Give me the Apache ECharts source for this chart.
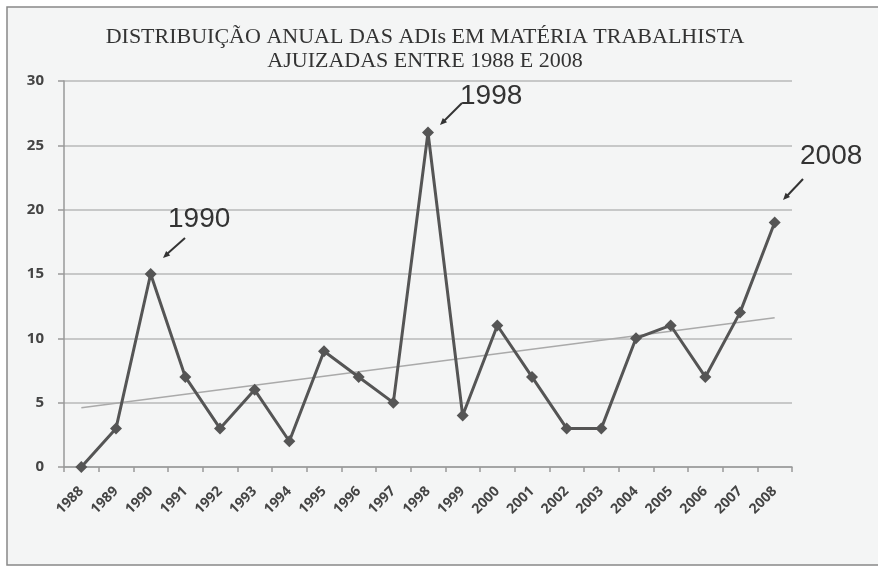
<!DOCTYPE html>
<html>
<head>
<meta charset="utf-8">
<script src="https://cdn.jsdelivr.net/npm/echarts@6/dist/echarts.min.js"></script>
<style>
  html, body { margin: 0; padding: 0; background: #ffffff; }
  #main { width: 878px; height: 568px; }
</style>
</head>
<body>
<div id="main"></div>
<script>
// dados
var anos = ["1988", "1989", "1990", "1991", "1992", "1993", "1994", "1995", "1996", "1997",
  "1998", "1999", "2000", "2001", "2002", "2003", "2004", "2005", "2006", "2007", "2008"];
var adis = [0, 3, 15, 7, 3, 6, 2, 9, 7, 5, 26, 4, 11, 7, 3, 3, 10, 11, 7, 12, 19];
// linha de tendência (inicio e fim)
var tendencia = [4.6, 11.6];
var yTicks = [0, 5, 10, 15, 20, 25, 30];

var trendData = anos.map(function (a, i) {
  if (i === 0) return tendencia[0];
  if (i === anos.length - 1) return tendencia[1];
  return null;
});

var myChart = echarts.init(document.getElementById("main"));

function seta(x1, y1, x2, y2) {
  return {
    type: "line",
    shape: { x1: x1, y1: y1, x2: x2, y2: y2 },
    style: { stroke: "#333", lineWidth: 2 },
    z: 10
  };
}
function ponta(x, y, ang) {
  return {
    type: "polygon",
    x: x, y: y, rotation: ang,
    shape: { points: [[0, 0], [-7, -3], [-7, 3]] },
    style: { fill: "#333" },
    z: 10
  };
}

var option = {
  backgroundColor: "#ffffff",
  animation: false,
  title: {
    text: "DISTRIBUIÇÃO ANUAL DAS ADIs EM MATÉRIA TRABALHISTA\nAJUIZADAS ENTRE 1988 E 2008",
    left: 420,
    top: 20,
    textAlign: "center",
    textStyle: {
      fontFamily: "Liberation Serif",
      fontWeight: "normal",
      fontSize: 22,
      lineHeight: 24,
      color: "#333"
    }
  },
  grid: { left: 64, right: 86, top: 81, bottom: 101 },
  xAxis: {
    type: "category",
    data: anos,
    boundaryGap: true,
    axisLine: { lineStyle: { color: "#999", width: 1.5 } },
    axisTick: { show: true, length: 5, lineStyle: { color: "#999", width: 1.5 } },
    axisLabel: {
      rotate: 45,
      interval: 0,
      margin: 22,
      fontFamily: "Open Sans",
      fontWeight: "bold",
      fontSize: 14,
      color: "#444"
    }
  },
  yAxis: {
    type: "value",
    min: yTicks[0],
    max: yTicks[yTicks.length - 1],
    interval: 5,
    axisLine: { show: true, lineStyle: { color: "#999", width: 1.5 } },
    axisTick: { show: true, length: 6, lineStyle: { color: "#999", width: 1.5 } },
    splitLine: { lineStyle: { color: "#b8b8b8", width: 1.5 } },
    axisLabel: {
      margin: 20,
      fontFamily: "Open Sans",
      fontWeight: "bold",
      fontSize: 15,
      color: "#444"
    }
  },
  series: [
    {
      name: "Tendência",
      type: "line",
      data: trendData,
      connectNulls: true,
      symbol: "none",
      lineStyle: { color: "#aaa", width: 1.5 },
      z: 2
    },
    {
      name: "ADIs",
      type: "line",
      data: adis,
      symbol: "diamond",
      symbolSize: 12,
      itemStyle: { color: "#555" },
      lineStyle: { color: "#555", width: 3 },
      z: 3
    }
  ],
  graphic: [
    {
      type: "rect",
      shape: { x: 7, y: 7, width: 900, height: 558 },
      style: { fill: "#f4f5f5", stroke: "#888", lineWidth: 1.5 },
      z: -10
    },
    { type: "text", x: 168, y: 205, style: { text: "1990", font: "28px 'Liberation Sans'", fill: "#333" }, z: 10 },
    { type: "text", x: 460, y: 82, style: { text: "1998", font: "28px 'Liberation Sans'", fill: "#333" }, z: 10 },
    { type: "text", x: 800, y: 142, style: { text: "2008", font: "28px 'Liberation Sans'", fill: "#333" }, z: 10 },
    seta(185, 238, 167, 254),
    ponta(163, 258, -Math.atan2(20, -22)),
    seta(462, 103, 444, 121),
    ponta(440, 125, -Math.atan2(22, -22)),
    seta(803, 179, 787, 196),
    ponta(783, 200, -Math.atan2(21, -20))
  ]
};

myChart.setOption(option);
</script>
</body>
</html>
